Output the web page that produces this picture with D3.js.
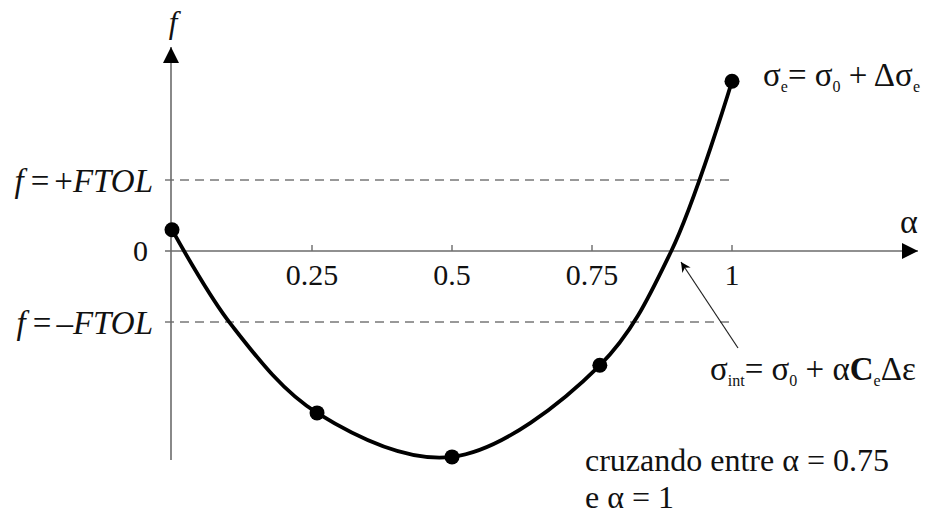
<!DOCTYPE html>
<html>
<head>
<meta charset="utf-8">
<script src="https://cdn.jsdelivr.net/npm/d3@7"></script>
<style>
  html, body { margin: 0; padding: 0; background: #fff; }
</style>
</head>
<body>
<svg id="chart" width="925" height="518"></svg>
<script>
// Iterates of the load-step parameter α and the yield function value f (in units of FTOL)
const pointAlpha = [0, 0.259, 0.5, 0.764, 1];
const pointF = [0.30, -2.28, -2.90, -1.61, 2.39];
// f(α) (iterates plus the tolerance and zero crossings)
const curveAlpha = [0, 0.105, 0.259, 0.5, 0.764, 0.891, 1];
const curveF = [0.30, -1.03, -2.28, -2.90, -1.61, -0.01, 2.39];
const tickAlphas = [0.25, 0.5, 0.75, 1];
const tickLabels = ["0.25", "0.5", "0.75", "1"];
const toleranceLevels = [1, -1];

const serif = "'Liberation Serif', 'DejaVu Serif', serif";
const svg = d3.select("#chart");
const x = d3.scaleLinear().domain([0, 1]).range([172, 732]);
const y = d3.scaleLinear().domain([0, 1]).range([251, 180]);

const axisColor = "#6b6b6b";

function txt(px, py, size) {
  return svg.append("text").attr("x", px).attr("y", py)
    .attr("font-family", serif).attr("font-size", size).attr("fill", "#111");
}

// arrow markers
const defs = svg.append("defs");
defs.append("marker").attr("id", "axisArrow")
  .attr("viewBox", "0 0 10 10").attr("refX", 10).attr("refY", 5)
  .attr("markerWidth", 16).attr("markerHeight", 16).attr("markerUnits", "userSpaceOnUse")
  .attr("orient", "auto")
  .append("path").attr("d", "M0,0 L10,5 L0,10 Z").attr("fill", "#000");
defs.append("marker").attr("id", "noteArrow")
  .attr("viewBox", "0 0 10 10").attr("refX", 10).attr("refY", 5)
  .attr("markerWidth", 13).attr("markerHeight", 10).attr("markerUnits", "userSpaceOnUse")
  .attr("orient", "auto")
  .append("path").attr("d", "M0,0 L10,5 L0,10 L3,5 Z").attr("fill", "#000");

// tolerance band limits
svg.selectAll(".tol").data(toleranceLevels).join("line")
  .attr("class", "tol")
  .attr("x1", x(0) - 7).attr("x2", x(1) + 3)
  .attr("y1", d => y(d)).attr("y2", d => y(d))
  .attr("stroke", "#333").attr("stroke-width", 1)
  .attr("stroke-dasharray", "9,6");

// horizontal α axis
svg.append("line")
  .attr("x1", x(0) - 7).attr("x2", 918)
  .attr("y1", y(0)).attr("y2", y(0))
  .attr("stroke", axisColor).attr("stroke-width", 1.6)
  .attr("marker-end", "url(#axisArrow)");

// vertical f axis
svg.append("line")
  .attr("x1", x(0) - 1).attr("x2", x(0) - 1)
  .attr("y1", 460).attr("y2", 47)
  .attr("stroke", axisColor).attr("stroke-width", 1.6)
  .attr("marker-end", "url(#axisArrow)");

// tick marks and labels
svg.selectAll(".tick").data(tickAlphas).join("line")
  .attr("class", "tick")
  .attr("x1", d => x(d)).attr("x2", d => x(d))
  .attr("y1", y(0)).attr("y2", y(0) - 6)
  .attr("stroke", axisColor).attr("stroke-width", 1.4);
svg.selectAll(".tickLabel").data(tickAlphas).join("text")
  .attr("class", "tickLabel")
  .attr("x", d => x(d))
  .attr("y", y(0) + 34)
  .attr("text-anchor", "middle")
  .attr("font-family", serif).attr("font-size", 30).attr("fill", "#111")
  .text((d, i) => tickLabels[i]);

// axis titles
txt(173, 33, 31).attr("text-anchor", "middle").attr("font-style", "italic").text("f");
txt(909, 233, 34).attr("text-anchor", "middle").text("α");

// left-side level labels
txt(148, y(0) + 10, 30).attr("text-anchor", "end").text("0");
const levelText = [["+", 1], ["\u2013", -1]];
levelText.forEach(([sign, lvl]) => {
  const t = txt(153, y(lvl) + 12, 33).attr("text-anchor", "end");
  t.append("tspan").attr("font-style", "italic").text("f");
  t.append("tspan").attr("dx", 7).text("=");
  t.append("tspan").attr("dx", 5).text(sign);
  t.append("tspan").attr("font-style", "italic").text("FTOL");
});

// f(α) curve and the evaluated points
const curvePts = curveAlpha.map((a, i) => [a, curveF[i]]);
const pts = pointAlpha.map((a, i) => [a, pointF[i]]);
const line = d3.line().x(d => x(d[0])).y(d => y(d[1])).curve(d3.curveCatmullRom.alpha(0.5));
svg.append("path").attr("d", line(curvePts))
  .attr("fill", "none").attr("stroke", "#000").attr("stroke-width", 3.8)
  .attr("stroke-linejoin", "round");
svg.selectAll(".pt").data(pts).join("circle")
  .attr("class", "pt")
  .attr("cx", d => x(d[0])).attr("cy", d => y(d[1])).attr("r", 7.5)
  .attr("fill", "#000");

// stress at end of increment
const endNote = txt(763, 86, 33);
endNote.append("tspan").text("σ");
endNote.append("tspan").attr("font-size", 16).attr("dy", 6).text("e");
endNote.append("tspan").attr("dy", -6).text("= σ");
endNote.append("tspan").attr("font-size", 16).attr("dy", 6).text("0");
endNote.append("tspan").attr("dy", -6).text(" + Δσ");
endNote.append("tspan").attr("font-size", 16).attr("dy", 6).text("e");

// intersection stress with pointer arrow
svg.append("line")
  .attr("x1", 738).attr("y1", 348).attr("x2", 681).attr("y2", 262)
  .attr("stroke", "#222").attr("stroke-width", 1.2)
  .attr("marker-end", "url(#noteArrow)");
const intNote = txt(710, 380, 33);
intNote.append("tspan").text("σ");
intNote.append("tspan").attr("font-size", 16).attr("dy", 6).text("int");
intNote.append("tspan").attr("dy", -6).text("= σ");
intNote.append("tspan").attr("font-size", 16).attr("dy", 6).text("0");
intNote.append("tspan").attr("dy", -6).text(" + α");
intNote.append("tspan").attr("font-weight", "bold").text("C");
intNote.append("tspan").attr("font-size", 16).attr("dy", 6).text("e");
intNote.append("tspan").attr("dy", -6).text("Δε");

// crossing note
txt(585, 471, 32).text("cruzando entre α = 0.75");
txt(585, 508, 32).text("e α = 1");
</script>
</body>
</html>
